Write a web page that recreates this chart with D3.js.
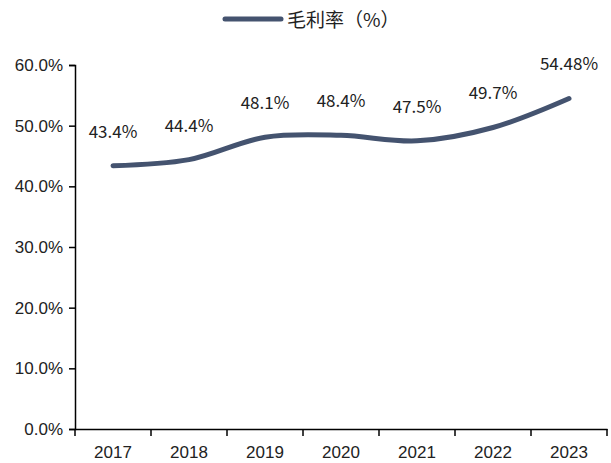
<!DOCTYPE html>
<html>
<head>
<meta charset="utf-8">
<style>
    body { margin: 0; background: #fff; }
    svg { display: block; font-family: "Noto Sans CJK SC", "Liberation Sans", sans-serif; }
</style>
</head>
<body>
<svg width="611" height="463"></svg>
<script src="https://d3js.org/d3.v7.min.js"></script>
<script>
    // data
    let years = ["2017", "2018", "2019", "2020", "2021", "2022", "2023"];
    let margin = [43.4, 44.4, 48.1, 48.4, 47.5, 49.7, 54.48];
    let labels = ["43.4%", "44.4%", "48.1%", "48.4%", "47.5%", "49.7%", "54.48%"];
    let yTicks = [0, 10, 20, 30, 40, 50, 60];

    let svg = d3.select("svg");
    let lineColor = "#44536f";

    let x = d3.scaleBand()
        .domain(years)
        .range([75, 607]);

    let y = d3.scaleLinear()
        .domain([0, 60])
        .range([429, 65]);

    // y axis
    let yAxis = svg.append("g")
        .attr("transform", "translate(75,0)")
        .call(d3.axisLeft(y).tickValues(yTicks).tickSize(6).tickFormat(d => d.toFixed(1) + "%"));
    yAxis.select(".domain").attr("stroke", "#000").attr("stroke-width", 1.5);
    yAxis.selectAll(".tick line").attr("stroke", "#000").attr("stroke-width", 1.5);
    yAxis.selectAll("text")
        .attr("x", -12)
        .style("font-size", "17px")
        .style("fill", "#222");

    // x axis, ticks between categories
    let xAxis = svg.append("g")
        .attr("transform", "translate(0,429)")
        .call(d3.axisBottom(x).tickSize(0).tickSizeOuter(0));
    xAxis.select(".domain").attr("stroke", "#000").attr("stroke-width", 1.5);
    xAxis.selectAll("text")
        .attr("dy", "1.55em")
        .style("font-size", "17px")
        .style("fill", "#222");

    let bounds = years.map(d => x(d)).concat([x.range()[1]]);
    svg.selectAll(".xtick")
        .data(bounds)
        .join("line")
        .attr("x1", d => d)
        .attr("x2", d => d)
        .attr("y1", 429)
        .attr("y2", 436)
        .attr("stroke", "#000")
        .attr("stroke-width", 1.5);

    // line
    let line = d3.line()
        .x((d, i) => x(years[i]) + x.bandwidth() / 2)
        .y(d => y(d))
        .curve(d3.curveCatmullRom.alpha(0.5));

    svg.append("path")
        .attr("d", line(margin))
        .attr("fill", "none")
        .attr("stroke", lineColor)
        .attr("stroke-width", 5)
        .attr("stroke-linecap", "round");

    // data labels
    svg.selectAll(".lbl")
        .data(margin)
        .join("text")
        .attr("x", (d, i) => x(years[i]) + x.bandwidth() / 2)
        .attr("y", d => y(d) - 28)
        .attr("text-anchor", "middle")
        .style("font-size", "17px")
        .style("fill", "#222")
        .text((d, i) => labels[i]);

    // legend
    svg.append("line")
        .attr("x1", 225).attr("x2", 281)
        .attr("y1", 19).attr("y2", 19)
        .attr("stroke", lineColor)
        .attr("stroke-width", 5)
        .attr("stroke-linecap", "round");
    svg.append("text")
        .attr("x", 287)
        .attr("y", 27)
        .style("font-size", "19px")
        .style("fill", "#222")
        .text("毛利率（%）");
</script>
</body>
</html>
